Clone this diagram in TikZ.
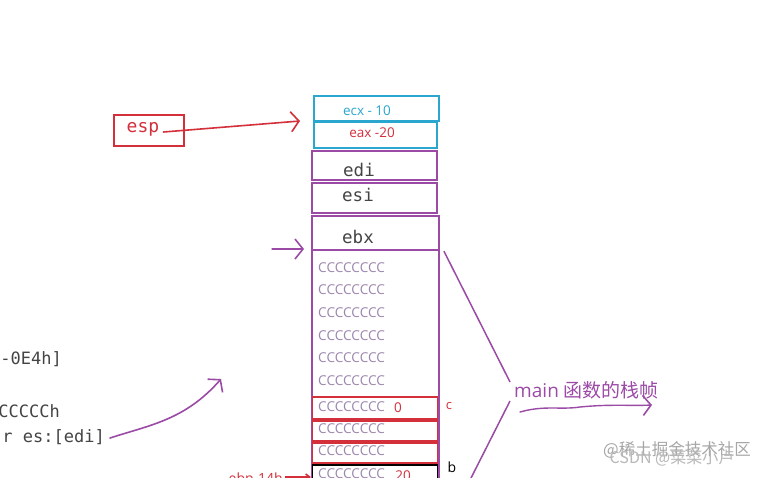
\documentclass[tikz,border=0pt]{standalone}
\usepackage{fontspec}
\setmainfont{Open Sans}
\setmonofont{DejaVu Sans Mono}
\newfontfamily\cjk{Noto Sans CJK SC}
\usetikzlibrary{arrows.meta}
\definecolor{cyanbox}{HTML}{2BA6CF}
\definecolor{purp}{HTML}{9B4BA6}
\definecolor{redb}{HTML}{D3303C}
\definecolor{codegray}{HTML}{444444}
\definecolor{ctext}{HTML}{9C86AE}
\begin{document}
\begin{tikzpicture}[x=1pt,y=-1pt,
  sbox/.style={draw,line width=1.8pt,inner sep=0pt},
  ctxt/.style={anchor=west,inner sep=0pt,text=ctext,font=\fontsize{13.6}{15}\selectfont},
  regtxt/.style={inner sep=0pt,text=codegray,font=\ttfamily\fontsize{17.5}{19}\selectfont},
  codetxt/.style={anchor=east,inner sep=0pt,text=codegray,font=\ttfamily\fontsize{17}{19}\selectfont},
  hand/.style={line width=1.6pt,line cap=round,-{Straight Barb[length=8pt,width=20pt,line width=1.6pt]}}]
\useasboundingbox (0,0) rectangle (759,477);
\clip (0,0) rectangle (759,477);
\fill[white] (0,0) rectangle (759,477);
% stack top
\node[sbox,draw=cyanbox,minimum width=125pt,minimum height=25pt] (ecx) at (376.5,108.5) {};
\node[text=cyanbox,font=\fontsize{13.5}{15}\selectfont,inner sep=0pt] (ecxt) at (367,111) {ecx - 10};
\node[sbox,draw=cyanbox,minimum width=123pt,minimum height=26pt] (eax) at (375.5,135) {};
\node[text=redb,font=\fontsize{13.5}{15}\selectfont,inner sep=0pt] (eaxt) at (372,133) {eax -20};
\node[sbox,draw=purp,minimum width=125pt,minimum height=29pt] (edi) at (374.5,165.5) {};
\node[regtxt] (edit) at (359,170) {edi};
\node[sbox,draw=purp,minimum width=125pt,minimum height=30pt] (esi) at (374.5,198) {};
\node[regtxt] (esit) at (358,195) {esi};
\node[sbox,draw=purp,minimum width=127pt,minimum height=34pt] (ebx) at (375.5,233) {};
\node[regtxt] (ebxt) at (358,237) {ebx};
% frame
\node[sbox,draw=purp,minimum width=127pt,minimum height=240pt] (frame) at (375.5,370) {};
\foreach \yy/\nn in {268/1,290/2,313/3,336/4,358/5,381/6}
  \node[ctxt] (cc\nn) at (318,\yy) {CCCCCCCC};
\node[sbox,draw=redb,minimum width=125pt,minimum height=22pt] (r1) at (375,408) {};
\node[sbox,draw=redb,minimum width=125pt,minimum height=20pt] (r2) at (375,431) {};
\node[sbox,draw=redb,minimum width=125pt,minimum height=20pt] (r3) at (375,453) {};
\node[sbox,draw=black,minimum width=125pt,minimum height=20pt] (bk) at (375,475) {};
\node[ctxt] (cr1) at (318,407) {CCCCCCCC};
\node[ctxt] (cr2) at (318,429) {CCCCCCCC};
\node[ctxt] (cr3) at (318,451) {CCCCCCCC};
\node[ctxt] (cr4) at (318,474) {CCCCCCCC};
\node[text=redb,font=\fontsize{13.5}{15}\selectfont,inner sep=0pt] (zero) at (398,408) {0};
\node[text=redb,font=\fontsize{13.5}{15}\selectfont,inner sep=0pt] (twenty) at (403,476) {20};
\node[text=redb,font=\fontsize{13}{15}\selectfont,inner sep=0pt] (clab) at (449,406) {c};
\node[text=black,font=\fontsize{14}{16}\selectfont,inner sep=0pt] (blab) at (452,467) {b};
% esp
\node[sbox,draw=redb,minimum width=70pt,minimum height=31pt] (esp) at (149,130.5) {};
\node[regtxt,text=redb,font=\ttfamily\fontsize{18}{20}\selectfont] (espt) at (143,129) {esp};
\coordinate (esptip) at (300,121);
\path (espt.east) ++(4,3) coordinate (espstart);
\draw[hand,draw=redb] (espstart) -- (esptip);
% arrow to ebx bottom
\coordinate (ebxin0) at (272,249);
\coordinate (ebxin) at (304,249);
\draw[hand,draw=purp,line width=1.3pt] (ebxin0) -- (ebxin);
% ebp-14h
\node[text=redb,font=\fontsize{14}{16}\selectfont,inner sep=0pt,anchor=east] (ebp) at (283,480) {ebp-14h};
\coordinate (ebptip) at (311,477);
\path (ebp.east) ++(2,-3) coordinate (ebpstart);
\draw[redb,line width=1.6pt,-{Straight Barb[length=4pt,width=6pt]}] (ebpstart) -- (ebptip);
% left code
\node[codetxt] (l1) at (62,359) {-0E4h]};
\node[codetxt] (l2) at (60,411) {CCCCCh};
\node[codetxt] (l3) at (105,437) {r es:[edi]};
\coordinate (cstart) at (110,438);
\coordinate (ctip) at (221,379);
\draw[hand,draw=purp] (cstart) .. controls (150,425) and (185,420) .. (ctip);
% main label
\node[text=purp,inner sep=0pt,anchor=west,font=\fontsize{19}{21}\selectfont] (main) at (514,390) {main {\cjk 函数的栈帧}};
\coordinate (m1) at (510,382);
\coordinate (m2) at (510,401);
\coordinate (m3) at (470,480);
\path (frame.north east) ++(4,2) coordinate (m0);
\draw[purp,line width=1.5pt] (m0) -- (m1);
\draw[purp,line width=1.5pt] (m2) -- (m3);
\coordinate (ustart) at (520,412);
\coordinate (utip) at (652,405);
\draw[hand,draw=purp,line width=1.4pt] (ustart) .. controls (545,405) and (560,410) .. (580,407) .. controls (610,404) and (630,406) .. (utip);
% watermark
\node[text=black!35,inner sep=0pt,font=\cjk\fontsize{16.5}{18}\selectfont] (wm1) at (677,450) {@稀土掘金技术社区};
\node[text=black!28,inner sep=0pt,font=\cjk\fontsize{16}{18}\selectfont] (wm2) at (672,458) {CSDN @菜菜小卢};
\end{tikzpicture}
\end{document}
